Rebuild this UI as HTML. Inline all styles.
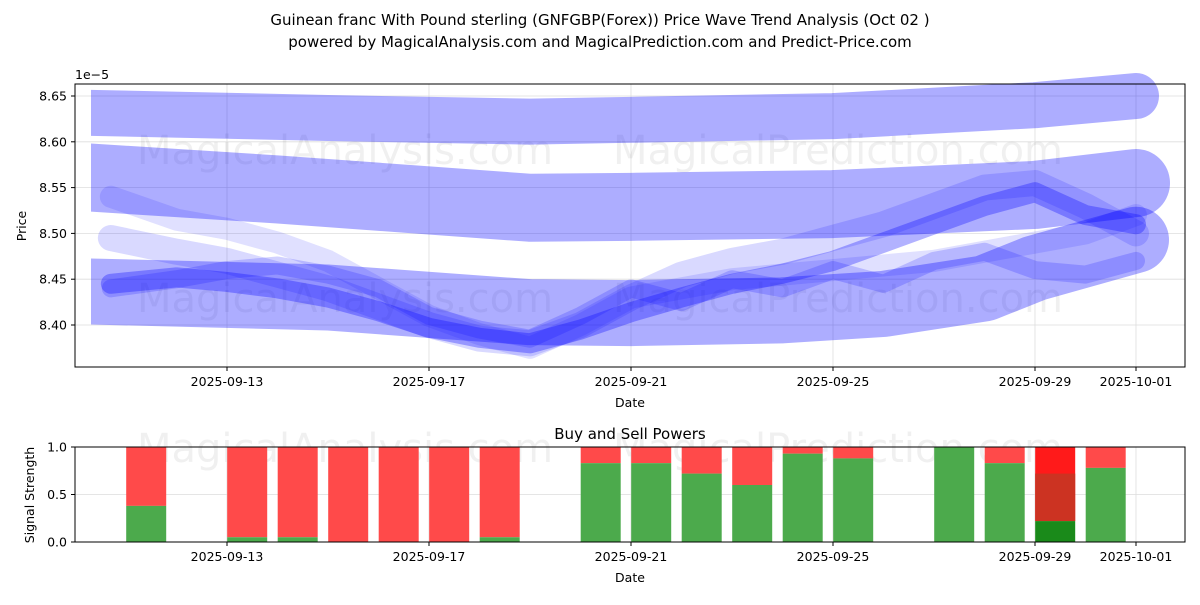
<!DOCTYPE html>
<html><head><meta charset="utf-8"><style>
body{margin:0;background:#fff;font-family:"Liberation Sans","DejaVu Sans",sans-serif}
svg text{font-family:"DejaVu Sans","Liberation Sans",sans-serif}
</style></head><body>
<svg id="c" width="1200" height="600" xmlns="http://www.w3.org/2000/svg">
<defs><clipPath id="clipL"><rect x="91" y="0" width="1200" height="600"/></clipPath></defs>
</svg>
<script>
// ---- data ----
const xTickLabels=["2025-09-13","2025-09-17","2025-09-21","2025-09-25","2025-09-29","2025-10-01"];
const xTickDays=[13,17,21,25,29,31];
const yTicks=[8.40,8.45,8.50,8.55,8.60,8.65];
const bandDays1=[10.0,15,19,21,25,29,31];
const bandVals1=[8.632,8.626,8.622,8.624,8.628,8.64,8.65];
const bandDays2=[10.0,14,17,19,21,25,29,31];
const bandVals2=[8.562,8.548,8.536,8.528,8.529,8.532,8.542,8.555];
const bandDays3=[10.0,15,19,21,24,26,28,29,31];
const bandVals3=[8.437,8.43,8.414,8.413,8.416,8.423,8.44,8.462,8.493];
const waveDays=[10.7,12,13,14,15,16,17,18,19,20,21,22,23,24,25,26,27,28,29,30,31];
const waveA=[8.445,8.452,8.447,8.44,8.43,8.415,8.397,8.386,8.38,8.395,8.414,8.43,8.445,8.456,8.47,8.49,8.51,8.53,8.545,8.52,8.51];
const waveB=[8.54,8.515,8.505,8.49,8.47,8.44,8.41,8.39,8.375,8.40,8.43,8.44,8.45,8.455,8.46,8.465,8.47,8.48,8.49,8.50,8.52];
const waveC=[8.495,8.48,8.47,8.455,8.44,8.42,8.40,8.385,8.38,8.40,8.43,8.455,8.47,8.48,8.495,8.51,8.53,8.55,8.555,8.53,8.50];
const waveD=[8.44,8.45,8.46,8.465,8.455,8.44,8.41,8.395,8.385,8.41,8.44,8.425,8.45,8.44,8.46,8.445,8.47,8.48,8.46,8.455,8.47];
const barDays=[11.4,13.4,14.4,15.4,16.4,17.4,18.4,20.4,21.4,22.4,23.4,24.4,25.4,27.4,28.4,29.4,30.4];
const buyVals=[0.38,0.05,0.05,0,0,0,0.05,0.83,0.83,0.72,0.6,0.93,0.88,1.0,0.83,0.22,0.78];
const sigTicks=[0,0.5,1.0];
// ---- axes ----
const X=d=>227+(d-13)*50.5;
const Y=v=>325-(v-8.40)/0.05*45.8;
const Y2=v=>542-v*95;
const NS="http://www.w3.org/2000/svg";
const svg=document.getElementById('c');
function mk(t,a,p){const e=document.createElementNS(NS,t);for(const k in a)e.setAttribute(k,a[k]);(p||svg).appendChild(e);return e;}
function txt(s,x,y,a){const e=mk('text',Object.assign({x:x,y:y,'font-size':12.5,fill:'#000'},a||{}));e.textContent=s;return e;}
let t=txt("Guinean franc With Pound sterling (GNFGBP(Forex)) Price Wave Trend Analysis (Oct 02 )",600,25,{'text-anchor':'middle','font-size':15});

t=txt("powered by MagicalAnalysis.com and MagicalPrediction.com and Predict-Price.com",600,47,{'text-anchor':'middle','font-size':15});

const g1=mk('g',{});
xTickDays.forEach(d=>mk('line',{x1:X(d),x2:X(d),y1:84,y2:367,stroke:'#ddd','stroke-width':0.8},g1));
yTicks.forEach(v=>mk('line',{x1:75,x2:1185,y1:Y(v),y2:Y(v),stroke:'#ddd','stroke-width':0.8},g1));
[[345,150],[838,150],[345,298],[838,298],[345,448],[838,448]].forEach(p=>{const w=txt(p[0]<600?"MagicalAnalysis.com":"MagicalPrediction.com",p[0],p[1]+14,{'text-anchor':'middle','font-size':40,fill:'#000','fill-opacity':0.06});});
const gc=mk('g',{'clip-path':'url(#clipL)'});
function poly(days,vals,w,op,name,parent){const pts=days.map((d,i)=>X(d)+','+Y(vals[i])).join(' ');const e=mk('polyline',{points:pts,fill:'none',stroke:'#0000ff','stroke-opacity':op,'stroke-width':w,'stroke-linejoin':'round','stroke-linecap':'round'},parent);return e;}
poly(bandDays1,bandVals1,46,0.32,'band-top',gc);
poly(bandDays2,bandVals2,68,0.32,'band-middle',gc);
poly(bandDays3,bandVals3,66,0.32,'band-bottom',gc);
poly(waveDays,waveB,22,0.12,'wave-b');
poly(waveDays,waveC,26,0.15,'wave-c');
poly(waveDays,waveD,18,0.18,'wave-d');
poly(waveDays,waveA,20,0.3,'wave-a');
mk('rect',{x:75,y:84,width:1110,height:283,fill:'none',stroke:'#000','stroke-width':1});
xTickDays.forEach((d,i)=>{mk('line',{x1:X(d),x2:X(d),y1:367,y2:371,stroke:'#000'});const e=txt(xTickLabels[i],X(d),386,{'text-anchor':'middle'});});
yTicks.forEach(v=>{mk('line',{x1:71,x2:75,y1:Y(v),y2:Y(v),stroke:'#000'});const e=txt(v.toFixed(2),67,Y(v)+4.5,{'text-anchor':'end'});});
t=txt("1e\u22125",75,79);
t=txt("Date",630,407,{'text-anchor':'middle'});
t=txt("Price",26,226,{'text-anchor':'middle',transform:'rotate(-90 26 226)'});
t=txt("Buy and Sell Powers",630,439,{'text-anchor':'middle','font-size':15});
sigTicks.forEach(v=>mk('line',{x1:75,x2:1185,y1:Y2(v),y2:Y2(v),stroke:'#ddd','stroke-width':0.8}));
xTickDays.forEach(d=>mk('line',{x1:X(d),x2:X(d),y1:447,y2:542,stroke:'#ddd','stroke-width':0.8}));
barDays.forEach((d,i)=>{const x=X(d)-20,b=buyVals[i];
 const special=(i===15);
 const r=mk('rect',{x:x,y:Y2(1),width:40,height:Y2(b)-Y2(1),fill:special?'#ff1a1a':'#ff4a4a'});
 
 if(special){const m=mk('rect',{x:x,y:Y2(0.72),width:40,height:Y2(b)-Y2(0.72),fill:'#cc3322'});}
 const gbar=mk('rect',{x:x,y:Y2(b),width:40,height:Y2(0)-Y2(b),fill:special?'#1a8a1a':'#4caa4c'});
 });
mk('rect',{x:75,y:447,width:1110,height:95,fill:'none',stroke:'#000','stroke-width':1});
xTickDays.forEach((d,i)=>{mk('line',{x1:X(d),x2:X(d),y1:542,y2:546,stroke:'#000'});const e=txt(xTickLabels[i],X(d),561,{'text-anchor':'middle'});});
sigTicks.forEach(v=>{mk('line',{x1:71,x2:75,y1:Y2(v),y2:Y2(v),stroke:'#000'});const e=txt(v.toFixed(1),67,Y2(v)+4.5,{'text-anchor':'end'});});
t=txt("Date",630,582,{'text-anchor':'middle'});
t=txt("Signal Strength",34,495,{'text-anchor':'middle',transform:'rotate(-90 34 495)'});
</script>
</body></html>
